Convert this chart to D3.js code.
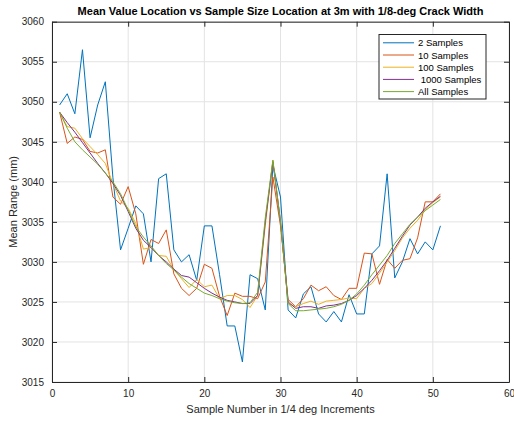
<!DOCTYPE html>
<html>
<head>
<meta charset="utf-8">
<script src="https://cdn.jsdelivr.net/npm/d3@7"></script>
<style>
  html, body { margin: 0; padding: 0; background: #fff; }
  svg text { font-family: "Liberation Sans", Arial, Helvetica, sans-serif; }
</style>
</head>
<body>
<svg id="chart" width="514" height="421"></svg>
<script>
// ---- data ----
const sampleNumbers = d3.range(1, 52);
const seriesNames = ["2 Samples", "10 Samples", "100 Samples", " 1000 Samples", "All Samples"];
const seriesColors = ["#0072BD", "#D95319", "#EDB120", "#7E2F8E", "#77AC30"];

const samples2 = [3049.6, 3051.0, 3048.5, 3056.5, 3045.5, 3049.6, 3052.5, 3040.5, 3031.5, 3034.2,
  3037.0, 3036.0, 3030.0, 3040.4, 3041.0, 3031.5, 3030.0, 3030.9, 3027.7, 3034.5,
  3034.5, 3028.4, 3022.0, 3022.0, 3017.5, 3028.4, 3027.9, 3024.0, 3042.1, 3038.1,
  3024.0, 3023.0, 3026.0, 3026.9, 3023.5, 3022.5, 3023.8, 3022.5, 3025.9, 3023.5,
  3023.5, 3031.0, 3032.0, 3041.0, 3028.0, 3030.0, 3032.9, 3031.0, 3032.5, 3031.5,
  3034.5];
const samples10 = [3048.7, 3044.8, 3045.6, 3045.3, 3043.8, 3043.6, 3044.0, 3038.1, 3037.2, 3039.4,
  3036.0, 3029.7, 3032.8, 3032.3, 3034.0, 3028.5, 3026.7, 3025.8, 3026.7, 3029.7,
  3029.2, 3025.7, 3023.3, 3026.1, 3025.7, 3025.7, 3025.4, 3027.5, 3040.6, 3034.5,
  3025.3, 3024.4, 3025.4, 3027.1, 3026.4, 3026.9, 3025.8, 3025.3, 3026.7, 3026.7,
  3031.1, 3031.0, 3027.2, 3030.3, 3029.2, 3030.2, 3030.4, 3033.0, 3037.5, 3037.5,
  3038.5];
const samples100 = [3048.7, 3046.9, 3046.7, 3045.4, 3044.4, 3043.4, 3042.3, 3039.8, 3037.6, 3036.7,
  3034.8, 3031.6, 3031.8, 3030.8, 3030.7, 3029.0, 3027.9, 3026.8, 3027.8, 3026.9,
  3027.1, 3025.4, 3025.8, 3025.8, 3025.3, 3024.3, 3025.8, 3034.5, 3042.7, 3035.0,
  3024.8, 3024.4, 3024.8, 3025.1, 3024.7, 3025.1, 3025.2, 3025.3, 3025.5, 3025.4,
  3026.7, 3027.3, 3028.6, 3030.0, 3031.4, 3033.0, 3034.2, 3035.2, 3036.5, 3037.4,
  3038.1];
const samples1000 = [3048.7, 3047.4, 3046.2, 3044.9, 3043.6, 3042.3, 3041.1, 3039.8, 3038.3, 3036.3,
  3034.2, 3032.7, 3031.8, 3030.8, 3030.0, 3029.1, 3028.3, 3028.1, 3027.4, 3026.7,
  3026.1, 3025.6, 3025.2, 3025.0, 3024.8, 3024.8, 3025.8, 3035.0, 3042.5, 3035.0,
  3025.0, 3024.2, 3024.4, 3024.4, 3024.2, 3024.5, 3024.6, 3024.8, 3025.2, 3025.8,
  3026.7, 3027.7, 3028.9, 3030.2, 3031.7, 3033.2, 3034.6, 3035.6, 3036.7, 3037.5,
  3038.2];
const samplesAll = [3048.7, 3046.7, 3045.0, 3044.0, 3043.1, 3042.2, 3041.1, 3040.0, 3038.5, 3036.5,
  3034.4, 3033.1, 3032.0, 3030.8, 3029.8, 3029.0, 3028.1, 3027.3, 3026.7, 3026.1,
  3025.8, 3025.4, 3025.1, 3024.9, 3024.8, 3024.9, 3026.2, 3035.5, 3042.7, 3035.0,
  3024.8, 3023.9, 3023.9, 3024.0, 3024.1, 3024.2, 3024.4, 3024.7, 3025.2, 3026.0,
  3027.1, 3028.4, 3029.6, 3030.8, 3032.3, 3033.5, 3034.7, 3035.6, 3036.4, 3037.1,
  3037.8];
const allSeries = [samples2, samples10, samples100, samples1000, samplesAll];

const xTicks = [0, 10, 20, 30, 40, 50, 60];
const yTicks = [3015, 3020, 3025, 3030, 3035, 3040, 3045, 3050, 3055, 3060];

const titleText = "Mean Value Location vs Sample Size Location at 3m with 1/8-deg Crack Width";
const xLabel = "Sample Number in 1/4 deg Increments";
const yLabel = "Mean Range (mm)";

// ---- layout ----
const svg = d3.select("#chart");
const L = 52, R = 509, T = 21.7, B = 382;
const x = d3.scaleLinear().domain([0, 60]).range([L, R]);
const y = d3.scaleLinear().domain([3015, 3060]).range([B, T]);
const axisColor = "#262626";

// grid
const grid = svg.append("g");
grid.selectAll("line.gx").data(xTicks).enter().append("line")
  .attr("x1", d => x(d)).attr("x2", d => x(d)).attr("y1", T).attr("y2", B)
  .attr("stroke", "#e3e3e3").attr("stroke-width", 1);
grid.selectAll("line.gy").data(yTicks).enter().append("line")
  .attr("x1", L).attr("x2", R).attr("y1", d => y(d)).attr("y2", d => y(d))
  .attr("stroke", "#e3e3e3").attr("stroke-width", 1);

// lines
const line = d3.line().x((d, i) => x(sampleNumbers[i])).y(d => y(d));
svg.append("g").selectAll("path").data(allSeries).enter().append("path")
  .attr("d", line)
  .attr("fill", "none")
  .attr("stroke", (d, i) => seriesColors[i])
  .attr("stroke-width", 1)
  .attr("stroke-linejoin", "round");

// axes
const tickLen = 5;
const fmt = d3.format("d");
const bottomAxis = d3.axisBottom(x).tickValues(xTicks).tickFormat(fmt).tickSizeInner(-tickLen).tickSizeOuter(0).tickPadding(8);
const leftAxis = d3.axisLeft(y).tickValues(yTicks).tickFormat(fmt).tickSizeInner(-tickLen).tickSizeOuter(0).tickPadding(8);
const topAxis = d3.axisTop(x).tickValues(xTicks).tickSizeInner(-tickLen).tickSizeOuter(0).tickFormat("");
const rightAxis = d3.axisRight(y).tickValues(yTicks).tickSizeInner(-tickLen).tickSizeOuter(0).tickFormat("");

function styleAxis(g) {
  g.selectAll("path.domain").attr("stroke", axisColor).attr("stroke-width", 1);
  g.selectAll(".tick line").attr("stroke", axisColor);
  g.selectAll(".tick text").attr("fill", axisColor).style("font-size", "10px")
    .style("font-family", "'Liberation Sans', Arial, sans-serif");
}
svg.append("g").attr("transform", `translate(0,${B})`).call(bottomAxis).call(styleAxis);
svg.append("g").attr("transform", `translate(${L},0)`).call(leftAxis).call(styleAxis);
svg.append("g").attr("transform", `translate(0,${T})`).call(topAxis).call(styleAxis);
svg.append("g").attr("transform", `translate(${R},0)`).call(rightAxis).call(styleAxis);

// title and labels
svg.append("text").attr("x", (L + R) / 2).attr("y", 15).attr("text-anchor", "middle")
  .style("font-size", "11px").style("font-weight", "bold").attr("fill", "#000").text(titleText);
svg.append("text").attr("x", (L + R) / 2).attr("y", 413).attr("text-anchor", "middle")
  .style("font-size", "11px").attr("fill", axisColor).text(xLabel);
svg.append("text").attr("transform", `translate(17,${(T + B) / 2}) rotate(-90)`).attr("text-anchor", "middle")
  .style("font-size", "11px").attr("fill", axisColor).text(yLabel);

// legend
const lg = svg.append("g");
const lgX = 379, lgY = 34.5, lgW = 107, lgH = 64.5;
lg.append("rect").attr("x", lgX).attr("y", lgY).attr("width", lgW).attr("height", lgH)
  .attr("fill", "#fff").attr("stroke", axisColor).attr("stroke-width", 1);
const rows = lg.selectAll("g.row").data(seriesNames).enter().append("g")
  .attr("transform", (d, i) => `translate(0,${lgY + 8.3 + i * 12.2})`);
rows.append("line").attr("x1", 383).attr("x2", 414).attr("y1", 0).attr("y2", 0)
  .attr("stroke", (d, i) => seriesColors[i]).attr("stroke-width", 1);
rows.append("text").attr("x", 418).attr("y", 3.5).style("font-size", "9.5px")
  .style("white-space", "pre").attr("xml:space", "preserve")
  .attr("fill", "#000").text(d => d);
</script>
</body>
</html>
